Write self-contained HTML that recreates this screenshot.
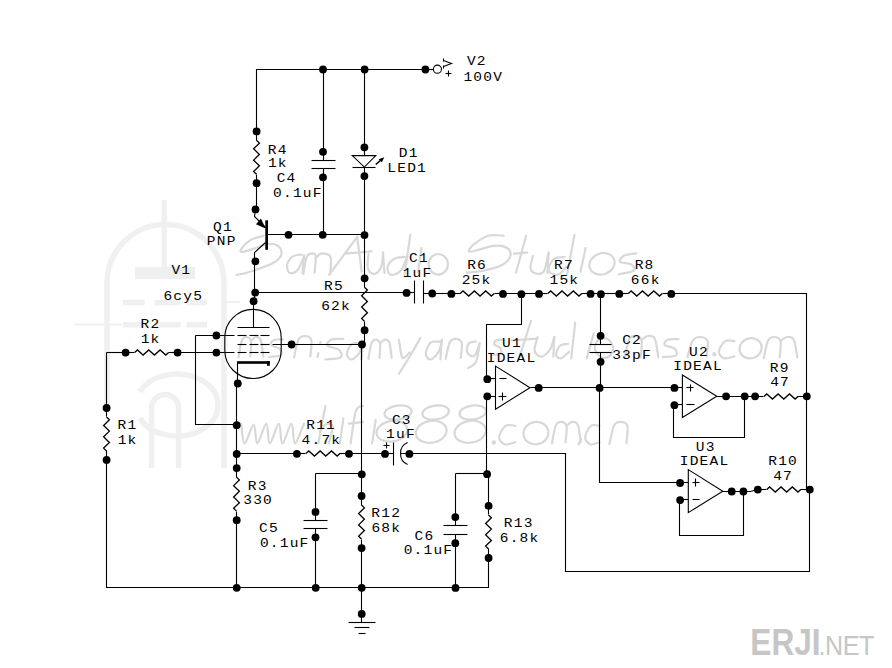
<!DOCTYPE html>
<html><head><meta charset="utf-8"><style>
html,body{margin:0;padding:0;background:#fff;width:892px;height:668px;overflow:hidden}
svg{display:block}
.s path,.s circle,.s rect{stroke:#000;stroke-width:1.1}
.s path{fill:none}
.s .f{fill:#000;stroke:none}
.s .z{stroke-width:1.3}
text{font-family:"Liberation Mono",monospace;font-size:13.2px;fill:#000;letter-spacing:1.1px}
</style></head><body>
<svg width="892" height="668" viewBox="0 0 892 668">
<rect width="892" height="668" fill="#fff"/>
<g fill="none" stroke="#f0f0f0" stroke-width="5.5">
<path d="M107 410 L107 283 A58.5 58.5 0 0 1 224 283 L224 468"/>
<path d="M164.3 200 L164.3 267"/>
<path d="M74 324.5 L122 324.5 M224 302 L240 302" stroke-width="2.2"/>
<path d="M123 302.6 L144.7 302.6 M154.3 302.6 L180.6 302.6 M186.6 302.6 L207 302.6"/>
<path d="M123 324.8 L144.7 324.8 M154.3 324.8 L180.6 324.8 M186.6 324.8 L207 324.8"/>
<path d="M139.8 391.9 A41 31 0 1 1 139.8 418.1"/>
<path d="M151.6 468 L151.6 408 A13.5 13.5 0 0 1 178.6 408 L178.6 468"/>
</g>
<rect x="135" y="267" width="60" height="12" fill="#efefef"/>
<g fill="none" stroke="#d8d8d8" stroke-width="2.2" stroke-linecap="round" stroke-linejoin="round"><path d="M263.6 235.7 C261.4 236.4 253.9 238.0 250.2 240.2 C246.5 242.4 242.5 247.1 241.2 249.1 C239.9 251.1 240.4 252.0 242.3 252.0 C244.2 252.0 248.3 250.4 252.4 249.1 C256.5 247.8 262.9 244.8 267.0 244.1 C271.1 243.4 274.7 243.8 277.1 245.2 C279.5 246.6 281.6 250.0 281.6 252.5 C281.6 255.0 280.1 258.0 277.1 260.4 C274.1 262.8 268.7 265.1 263.6 267.1 C258.6 269.2 251.3 271.4 246.8 272.7 C242.3 274.0 238.4 274.5 236.7 274.9"/>
<path d="M301.7 254.6 C300.2 254.9 295.2 254.7 292.8 256.4 C290.4 258.1 287.8 262.1 287.2 264.8 C286.6 267.5 287.7 271.8 289.4 272.7 C291.1 273.6 294.9 273.0 297.3 270.4 C299.7 267.8 302.9 259.2 304.0 257.0"/>
<path d="M304.0 255.0 C303.8 258.0 302.8 270.0 302.5 273.0"/>
<path d="M303.4 273.8 C303.9 271.0 305.3 260.4 306.7 257.0 C308.1 253.6 310.5 253.8 312.0 253.6 C313.5 253.4 315.3 252.8 315.7 256.0 C316.1 259.2 314.8 269.9 314.6 272.7"/>
<path d="M315.7 258.1 C316.6 257.4 318.8 254.1 321.0 253.6 C323.2 253.1 327.3 253.9 329.0 255.0 C330.7 256.1 330.8 256.9 331.0 260.0 C331.2 263.1 330.4 271.5 330.3 273.8"/>
<path d="M329.1 274.9 C333.8 268.5 352.5 243.2 357.2 236.8"/>
<path d="M357.2 236.8 C357.9 242.6 360.9 265.8 361.7 271.6"/>
<path d="M344.8 253.6 C349.3 253.2 367.2 251.8 371.7 251.4"/>
<path d="M368.4 254.0 C368.3 256.3 367.2 264.7 367.8 268.0 C368.4 271.3 370.3 272.9 372.0 273.6 C373.7 274.3 376.3 273.6 378.0 272.0 C379.7 270.4 381.2 267.2 382.0 264.0 C382.8 260.8 382.8 254.4 383.0 252.5"/>
<path d="M383.0 252.5 C383.2 255.9 384.2 269.6 384.5 273.0"/>
<path d="M404.7 256.9 C403.1 257.2 397.8 257.0 395.0 258.5 C392.2 260.0 388.6 263.4 387.7 266.0 C386.8 268.6 388.1 272.7 389.5 274.0 C390.9 275.3 393.9 274.9 396.0 274.0 C398.1 273.1 400.6 271.1 402.4 268.3 C404.2 265.5 406.1 258.9 406.9 257.0"/>
<path d="M410.3 234.6 C409.4 241.3 405.6 268.2 404.7 274.9"/>
<path d="M421.5 248.0 C420.9 251.9 418.7 267.7 418.1 271.6"/>
<ellipse cx="438.3" cy="264.3" rx="9.6" ry="10.3" transform="rotate(0 438.3 264.3)"/>
<path d="M503.7 235.7 C501.1 235.7 493.0 234.2 488.0 235.7 C483.0 237.2 476.7 242.1 473.5 244.7 C470.3 247.3 468.4 250.5 469.0 251.4 C469.6 252.3 472.7 251.2 476.8 250.3 C480.9 249.4 488.6 246.2 493.6 245.8 C498.7 245.4 504.3 246.3 507.1 248.0 C509.9 249.7 511.1 253.1 510.4 255.9 C509.6 258.7 506.9 262.4 502.6 264.8 C498.3 267.2 490.7 269.1 484.7 270.4 C478.7 271.7 469.7 272.3 466.7 272.7"/>
<path d="M526.1 235.7 C524.4 241.9 517.7 266.5 516.0 272.7"/>
<path d="M514.0 253.6 C516.2 253.4 525.1 252.7 527.3 252.5"/>
<path d="M532.9 255.9 C532.5 257.9 530.1 265.1 530.6 268.0 C531.1 270.9 533.8 273.0 536.0 273.5 C538.2 274.0 541.9 274.5 544.0 271.0 C546.1 267.5 547.8 255.6 548.6 252.5"/>
<path d="M548.6 252.5 C548.4 255.9 547.8 269.6 547.6 273.0"/>
<path d="M564.7 257.0 C563.0 257.3 557.0 256.7 554.3 258.7 C551.6 260.7 548.8 266.2 548.6 268.8 C548.4 271.4 551.1 273.5 553.0 274.3 C554.9 275.1 557.9 274.7 560.0 273.5 C562.1 272.3 564.9 268.0 565.9 266.9"/>
<path d="M574.5 234.8 C573.3 241.4 568.3 267.7 567.1 274.3"/>
<path d="M585.6 248.0 C584.8 252.0 581.4 267.8 580.5 271.8"/>
<ellipse cx="602" cy="263.8" rx="12.9" ry="10.5" transform="rotate(-20 602 263.8)"/>
<path d="M636.2 253.3 C634.1 253.7 626.5 254.4 623.8 255.8 C621.1 257.2 618.9 260.5 620.1 261.9 C621.3 263.3 628.9 262.9 631.2 264.4 C633.5 265.8 635.8 269.0 633.7 270.6 C631.7 272.2 621.4 273.7 618.9 274.3"/>
<path d="M238.6 357.5 C239.1 354.8 240.4 344.4 241.7 341.0 C242.9 337.6 244.4 337.0 246.0 337.0 C247.5 337.0 250.2 337.8 250.9 341.0 C251.6 344.2 250.4 353.9 250.3 356.5"/>
<path d="M250.9 341.0 C251.7 340.3 254.2 337.2 255.8 337.0 C257.5 336.8 259.5 336.8 260.7 340.0 C262.0 343.2 262.8 353.8 263.2 356.5"/>
<path d="M283.0 339.5 C281.5 339.6 276.2 339.1 274.2 340.0 C272.1 340.9 269.9 343.5 270.8 345.0 C271.7 346.4 277.9 347.0 279.6 348.7 C281.3 350.4 282.7 353.8 281.0 355.1 C279.3 356.5 271.3 356.7 269.4 357.0"/>
<path d="M294.0 357.5 C294.7 354.6 296.6 343.6 298.3 340.0 C300.1 336.4 302.2 336.0 304.4 336.0 C306.5 336.0 310.3 336.6 311.3 340.0 C312.3 343.4 310.5 353.8 310.3 356.5"/>
<path d="M320.5 342.0 C320.4 342.3 320.1 343.7 320.0 344.0"/>
<path d="M318.5 353.0 C318.3 353.7 317.7 356.3 317.5 357.0"/>
<path d="M343.3 338.9 C341.4 339.0 334.3 338.3 331.7 339.4 C329.0 340.5 326.0 343.7 327.2 345.5 C328.4 347.2 336.6 347.8 338.8 349.8 C341.1 351.8 342.9 355.7 340.6 357.3 C338.4 359.0 327.9 359.1 325.4 359.5"/>
<path d="M361.4 343.3 C359.8 343.4 354.1 342.4 351.7 344.2 C349.3 346.0 346.9 351.6 346.9 354.1 C346.9 356.7 349.6 359.8 351.7 359.5 C353.9 359.2 357.9 355.3 359.8 352.3 C361.7 349.3 362.5 343.3 363.0 341.5"/>
<path d="M363.0 341.5 C362.7 344.5 361.7 356.5 361.4 359.5"/>
<path d="M368.4 359.0 C368.9 356.4 370.1 346.9 371.3 343.7 C372.5 340.5 373.9 339.7 375.4 339.7 C376.8 339.7 379.4 340.6 380.0 343.7 C380.7 346.8 379.6 355.6 379.5 358.0"/>
<path d="M380.0 343.7 C380.8 343.0 383.2 339.9 384.7 339.7 C386.3 339.5 388.2 339.6 389.4 342.7 C390.5 345.8 391.3 355.4 391.7 358.0"/>
<path d="M398.9 339.7 C399.5 342.7 400.7 355.6 402.5 357.7 C404.3 359.8 408.5 353.2 409.7 352.3"/>
<path d="M420.4 337.9 C418.7 340.9 413.6 350.0 410.0 356.0 C406.4 362.0 400.8 370.8 398.9 373.8"/>
<path d="M440.4 341.7 C438.8 341.8 433.1 340.7 430.7 342.7 C428.2 344.7 425.8 350.8 425.8 353.6 C425.8 356.4 428.5 359.8 430.7 359.5 C432.8 359.2 436.9 354.9 438.8 351.6 C440.6 348.3 441.5 341.7 442.0 339.7"/>
<path d="M442.0 339.7 C441.7 343.0 440.6 356.2 440.4 359.5"/>
<path d="M445.6 359.0 C446.3 356.3 448.0 346.2 449.6 342.8 C451.2 339.4 453.2 338.8 455.3 338.8 C457.3 338.8 460.8 339.6 461.7 342.8 C462.6 346.0 460.9 355.5 460.7 358.0"/>
<path d="M476.0 341.5 C474.8 341.8 470.4 341.5 468.9 343.3 C467.4 345.1 466.2 350.2 467.1 352.3 C468.0 354.4 472.2 357.4 474.3 355.9 C476.4 354.4 478.7 345.4 479.6 343.3"/>
<path d="M479.6 343.3 C479.0 346.4 477.9 357.9 476.0 362.0 C474.1 366.1 469.3 367.0 468.0 368.0"/>
<path d="M502.3 339.7 C501.3 339.8 497.8 339.4 496.4 340.2 C495.1 341.0 493.6 343.2 494.2 344.4 C494.8 345.6 498.9 346.2 500.1 347.7 C501.2 349.2 502.1 352.1 500.9 353.4 C499.8 354.6 494.6 354.7 493.3 355.0"/>
<path d="M531.0 320.8 C529.2 326.5 522.0 349.1 520.2 354.8"/>
<path d="M511.3 340.5 C515.5 340.2 532.2 339.0 536.4 338.7"/>
<path d="M537.6 337.0 C537.1 339.3 533.9 347.5 534.6 350.7 C535.3 354.0 538.9 356.9 541.5 356.6 C544.1 356.3 548.2 352.0 550.4 348.8 C552.5 345.5 553.6 339.0 554.3 337.0"/>
<path d="M554.3 337.0 C554.1 340.3 553.5 353.3 553.3 356.6"/>
<path d="M568.2 343.9 C566.8 344.2 562.1 343.8 560.1 345.5 C558.1 347.3 556.0 352.2 556.1 354.4 C556.2 356.5 558.8 358.8 560.9 358.4 C563.1 358.0 567.6 353.0 569.0 352.0"/>
<path d="M575.2 322.6 C574.5 328.6 571.9 352.4 571.2 358.4"/>
<path d="M593.8 333.3 C592.6 337.5 587.8 354.2 586.6 358.4"/>
<ellipse cx="604" cy="348" rx="9" ry="10" transform="rotate(-15 604 348)"/>
<path d="M624.7 358.3 C625.4 355.2 627.2 343.6 628.9 339.9 C630.6 336.2 632.7 335.9 634.8 335.9 C636.9 335.9 640.5 336.3 641.5 339.9 C642.5 343.5 640.8 354.4 640.7 357.3"/>
<path d="M641.5 339.9 C642.6 339.2 646.0 336.1 648.2 335.9 C650.5 335.7 653.3 335.3 654.9 338.9 C656.6 342.5 657.7 354.2 658.3 357.3"/>
<path d="M678.5 339.1 C676.8 339.2 670.6 338.7 668.3 339.6 C665.9 340.5 663.3 343.3 664.4 344.8 C665.4 346.3 672.6 346.9 674.6 348.6 C676.5 350.4 678.1 353.9 676.1 355.3 C674.2 356.7 665.0 356.9 662.8 357.2"/>
<path d="M687.4 357.2 C688.2 354.5 690.4 344.4 692.5 341.0 C694.5 337.6 697.0 337.0 699.5 337.0 C702.0 337.0 706.4 337.8 707.6 341.0 C708.8 344.2 706.8 353.7 706.6 356.2"/>
<ellipse cx="714.3" cy="354.3" rx="1.1" ry="1.1" transform="rotate(0 714.3 354.3)"/>
<path d="M734.5 341.1 C732.9 341.1 727.7 339.4 725.1 341.1 C722.5 342.9 718.9 348.8 718.8 351.6 C718.7 354.5 721.7 357.5 724.3 358.3 C726.9 359.1 732.8 356.7 734.5 356.4"/>
<ellipse cx="750.6" cy="348.3" rx="11.2" ry="10" transform="rotate(-15 750.6 348.3)"/>
<path d="M763.7 358.3 C764.4 355.4 766.2 344.6 767.9 341.0 C769.6 337.4 771.7 337.0 773.8 337.0 C775.9 337.0 779.5 337.6 780.5 341.0 C781.5 344.4 779.8 354.6 779.7 357.3"/>
<path d="M780.5 341.0 C781.6 340.3 785.0 337.2 787.2 337.0 C789.5 336.8 792.3 336.6 793.9 340.0 C795.6 343.4 796.7 354.4 797.3 357.3"/>
<path d="M241.1 423.7 C241.7 427.0 242.6 443.2 244.7 443.4 C246.8 443.5 251.6 424.6 253.7 424.6 C255.8 424.6 255.2 443.5 257.3 443.4 C259.4 443.2 264.2 423.7 266.3 423.7 C268.4 423.7 267.7 443.4 269.8 443.4 C271.9 443.4 276.7 423.7 278.8 423.7 C280.9 423.7 280.3 443.4 282.4 443.4 C284.5 443.4 289.3 423.7 291.4 423.7 C293.5 423.7 292.9 443.4 295.0 443.4 C297.1 443.4 302.5 427.0 304.0 423.7"/>
<path d="M325.4 405.8 C324.2 412.1 319.5 437.1 318.3 443.4"/>
<path d="M320.1 430.9 C320.9 429.9 323.4 426.2 325.0 425.0 C326.6 423.8 328.2 423.3 329.5 423.7 C330.8 424.1 332.7 424.0 332.6 427.3 C332.5 430.6 329.6 440.7 329.0 443.4"/>
<path d="M343.4 418.3 C342.8 422.5 340.4 439.2 339.8 443.4"/>
<path d="M363.1 405.8 C361.9 406.7 358.0 404.8 355.9 411.1 C353.8 417.4 351.5 438.0 350.6 443.4"/>
<path d="M348.8 423.7 C351.2 423.4 360.7 422.2 363.1 421.9"/>
<path d="M375.7 420.1 C375.1 424.0 372.7 439.5 372.1 443.4"/>
<ellipse cx="398" cy="412.5" rx="13.6" ry="7.0" transform="rotate(-8 398 412.5)"/>
<ellipse cx="391.9" cy="431.2" rx="15.5" ry="10.3" transform="rotate(-10 391.9 431.2)"/>
<ellipse cx="435.6" cy="412.5" rx="13.4" ry="7.0" transform="rotate(-8 435.6 412.5)"/>
<ellipse cx="431.2" cy="431.8" rx="15.5" ry="10.9" transform="rotate(-10 431.2 431.8)"/>
<ellipse cx="472.8" cy="412.5" rx="13.4" ry="7.0" transform="rotate(-8 472.8 412.5)"/>
<ellipse cx="470.2" cy="431.8" rx="15.8" ry="10.9" transform="rotate(-10 470.2 431.8)"/>
<ellipse cx="493.8" cy="442.5" rx="1.2" ry="1.2" transform="rotate(0 493.8 442.5)"/>
<path d="M515.3 425.8 C513.7 425.8 508.3 423.9 505.6 425.8 C502.9 427.6 499.2 434.0 499.1 437.1 C499.0 440.2 502.1 443.4 504.8 444.3 C507.5 445.2 513.5 442.6 515.3 442.2"/>
<ellipse cx="535.9" cy="433.1" rx="12.5" ry="11.2" transform="rotate(-10 535.9 433.1)"/>
<path d="M552.0 443.4 C552.6 440.5 554.2 429.5 555.6 425.9 C557.0 422.3 558.8 421.9 560.6 421.9 C562.4 421.9 565.5 422.5 566.4 425.9 C567.2 429.3 565.8 439.6 565.6 442.4"/>
<path d="M566.4 425.9 C567.3 425.2 570.2 422.1 572.1 421.9 C574.0 421.7 576.4 421.5 577.8 424.9 C579.3 428.3 580.2 439.5 580.7 442.4"/>
<path d="M581.0 439.0 C580.6 439.9 578.9 443.6 578.5 444.5"/>
<path d="M599.6 425.8 C598.2 425.8 593.4 423.9 591.0 425.8 C588.6 427.6 585.3 434.0 585.2 437.1 C585.1 440.2 587.8 443.4 590.2 444.3 C592.6 445.2 598.0 442.6 599.6 442.2"/>
<path d="M609.4 444.3 C610.1 441.2 612.1 429.6 613.9 425.9 C615.7 422.2 617.9 421.9 620.2 421.9 C622.4 421.9 626.4 422.3 627.4 425.9 C628.4 429.5 626.6 440.4 626.4 443.3"/></g>
<g fill="#c8c8c8" font-family="Liberation Sans, sans-serif">
<text x="0" y="0" transform="translate(750.3 654.6) scale(0.855 1)" style="font-family:'Liberation Sans';font-weight:bold;font-size:37px;letter-spacing:0px;fill:#c6c6c6">ERJI</text>
<text x="0" y="0" transform="translate(818.5 654.5) scale(0.93 1)" style="font-family:'Liberation Sans';font-size:27px;letter-spacing:-0.5px;fill:#c6c6c6">.NET</text>
</g>

<g class="s">
<path d="M256.50 131.50 L256.50 69.50 L425.50 69.50"/>
<circle cx="323.00" cy="69.50" r="3.9" class="f"/>
<circle cx="364.60" cy="69.50" r="3.9" class="f"/>
<circle cx="425.40" cy="69.50" r="3.9" class="f"/>
<path d="M425.50 69.50 L433.50 69.50"/>
<circle cx="437.4" cy="69.2" r="4.05" fill="none"/>
<path d="M443.50 60.50 L451.50 63.50 L443.50 66.50"/>
<path d="M443.50 58.50 L443.50 61.50"/>
<path d="M443.50 65.50 L443.50 68.50"/>
<path d="M445.50 73.50 L451.50 73.50"/>
<path d="M448.50 70.50 L448.50 76.50"/>
<circle cx="256.60" cy="131.40" r="3.9" class="f"/>
<circle cx="256.60" cy="183.20" r="3.9" class="f"/>
<path d="M256.50 131.50 L256.50 140.50"/>
<path d="M256.50 174.50 L256.50 183.50"/>
<path d="M256.50 140.30 L259.40 143.13 L253.60 148.80 L259.40 154.47 L253.60 160.13 L259.40 165.80 L253.60 171.47 L256.50 174.30" class="z"/>
<path d="M323.50 69.50 L323.50 151.50"/>
<circle cx="323.00" cy="151.80" r="3.9" class="f"/>
<circle cx="323.00" cy="177.30" r="3.9" class="f"/>
<path d="M323.50 151.50 L323.50 160.50"/>
<path d="M323.50 168.50 L323.50 177.50"/>
<path d="M311.50 160.50 L335.50 160.50"/>
<path d="M311.50 168.50 L335.50 168.50"/>
<path d="M323.50 177.50 L323.50 235.50"/>
<path d="M364.50 69.50 L364.50 147.50"/>
<circle cx="364.40" cy="147.30" r="3.9" class="f"/>
<path d="M364.50 147.50 L364.50 155.50"/>
<path d="M352.3 155.6 L375.8 155.6 L364.3 167.1 Z" fill="none"/>
<path d="M352.50 167.50 L375.50 167.50"/>
<circle cx="364.40" cy="176.10" r="3.9" class="f"/>
<path d="M364.50 167.50 L364.50 278.50"/>
<path d="M375.8 164.5 L381.5 159.5" style="stroke-width:1.6"/>
<path d="M384.3 157.2 L378.6 159.2 L381.9 162.3 Z" class="f"/>
<circle cx="255.50" cy="209.40" r="3.9" class="f"/>
<path d="M256.50 183.50 L256.50 209.50"/>
<path d="M255.50 209.50 L254.50 216.50 L265.50 227.50"/>
<path d="M265.6 228.4 L256.0 224.2 L260.9 218.4 Z" class="f"/>
<rect x="265.3" y="220.3" width="2.7" height="29.5" class="f" stroke="none"/>
<path d="M266.50 234.50 L364.50 234.50"/>
<circle cx="288.50" cy="234.80" r="3.9" class="f"/>
<circle cx="322.70" cy="234.80" r="3.9" class="f"/>
<circle cx="364.50" cy="235.10" r="3.9" class="f"/>
<path d="M265.50 242.50 L254.50 252.50 L254.50 261.50"/>
<circle cx="255.40" cy="261.30" r="3.9" class="f"/>
<path d="M254.50 261.50 L254.50 301.50"/>
<circle cx="255.20" cy="292.60" r="3.9" class="f"/>
<circle cx="253.60" cy="301.20" r="3.9" class="f"/>
<path d="M255.50 292.50 L406.50 292.50"/>
<circle cx="364.60" cy="278.30" r="3.9" class="f"/>
<circle cx="364.60" cy="330.20" r="3.9" class="f"/>
<path d="M364.50 278.50 L364.50 287.50"/>
<path d="M364.50 321.50 L364.50 330.50"/>
<path d="M364.50 287.25 L367.40 290.08 L361.60 295.75 L367.40 301.42 L361.60 307.08 L367.40 312.75 L361.60 318.42 L364.50 321.25" class="z"/>
<path d="M364.50 330.50 L364.50 341.50 L362.50 344.50"/>
<circle cx="362.00" cy="344.50" r="3.9" class="f"/>
<path d="M361.50 344.50 L361.50 496.50"/>
<path d="M361.50 548.50 L361.50 587.50"/>
<circle cx="406.60" cy="292.90" r="3.9" class="f"/>
<circle cx="432.20" cy="293.50" r="3.9" class="f"/>
<path d="M406.50 292.50 L414.50 292.50"/>
<path d="M423.50 293.50 L451.50 293.50"/>
<path d="M414.50 280.50 L414.50 303.50"/>
<path d="M423.50 280.50 L423.50 303.50"/>
<circle cx="451.40" cy="293.90" r="3.9" class="f"/>
<circle cx="503.00" cy="293.90" r="3.9" class="f"/>
<path d="M451.50 293.50 L460.50 293.50"/>
<path d="M494.50 293.50 L503.50 293.50"/>
<path d="M460.20 293.50 L463.03 290.90 L468.70 296.10 L474.37 290.90 L480.03 296.10 L485.70 290.90 L491.37 296.10 L494.20 293.50" class="z"/>
<path d="M503.50 293.50 L539.50 293.50"/>
<circle cx="521.40" cy="294.20" r="3.9" class="f"/>
<circle cx="539.00" cy="293.90" r="3.9" class="f"/>
<circle cx="590.60" cy="293.90" r="3.9" class="f"/>
<path d="M539.50 293.50 L547.50 293.50"/>
<path d="M581.50 293.50 L590.50 293.50"/>
<path d="M547.80 293.50 L550.63 290.90 L556.30 296.10 L561.97 290.90 L567.63 296.10 L573.30 290.90 L578.97 296.10 L581.80 293.50" class="z"/>
<path d="M590.50 293.50 L619.50 293.50"/>
<circle cx="600.90" cy="294.20" r="3.9" class="f"/>
<circle cx="619.30" cy="293.90" r="3.9" class="f"/>
<circle cx="671.30" cy="293.90" r="3.9" class="f"/>
<path d="M619.50 293.50 L628.50 293.50"/>
<path d="M662.50 293.50 L671.50 293.50"/>
<path d="M628.30 293.50 L631.13 290.90 L636.80 296.10 L642.47 290.90 L648.13 296.10 L653.80 290.90 L659.47 296.10 L662.30 293.50" class="z"/>
<path d="M671.50 293.50 L806.50 293.50 L806.50 396.50"/>
<rect x="224.8" y="309.4" width="56.4" height="69.1" rx="28.2" ry="28.2" fill="none"/>
<path d="M253.50 301.50 L253.50 327.50"/>
<path d="M237.50 327.50 L269.50 327.50"/>
<path d="M237.50 335.50 L246.50 335.50"/>
<path d="M249.50 335.50 L258.50 335.50"/>
<path d="M260.50 335.50 L269.50 335.50"/>
<path d="M237.50 344.50 L246.50 344.50"/>
<path d="M249.50 344.50 L258.50 344.50"/>
<path d="M260.50 344.50 L269.50 344.50"/>
<path d="M237.50 352.50 L246.50 352.50"/>
<path d="M249.50 352.50 L258.50 352.50"/>
<path d="M260.50 352.50 L269.50 352.50"/>
<path d="M195.50 335.50 L234.50 335.50"/>
<circle cx="216.40" cy="335.50" r="3.9" class="f"/>
<path d="M106.50 352.50 L125.50 352.50"/>
<path d="M177.50 352.50 L234.50 352.50"/>
<circle cx="216.40" cy="352.60" r="3.9" class="f"/>
<path d="M272.50 344.50 L362.50 344.50"/>
<circle cx="291.60" cy="344.50" r="3.9" class="f"/>
<rect x="237.1" y="361.2" width="32.7" height="2.6" class="f" stroke="none"/>
<rect x="267.0" y="361.2" width="2.8" height="4.6" class="f" stroke="none"/>
<path d="M237.50 362.50 L237.50 383.50"/>
<path d="M236.50 383.50 L236.50 468.50"/>
<path d="M236.50 520.50 L236.50 587.50"/>
<circle cx="237.80" cy="383.50" r="3.9" class="f"/>
<path d="M195.50 335.50 L195.50 424.50 L236.50 424.50"/>
<circle cx="236.70" cy="425.20" r="3.9" class="f"/>
<circle cx="236.70" cy="454.00" r="3.9" class="f"/>
<circle cx="125.60" cy="352.60" r="3.9" class="f"/>
<circle cx="177.60" cy="352.60" r="3.9" class="f"/>
<path d="M125.50 352.50 L134.50 352.50"/>
<path d="M168.50 352.50 L177.50 352.50"/>
<path d="M134.60 352.50 L137.43 349.90 L143.10 355.10 L148.77 349.90 L154.43 355.10 L160.10 349.90 L165.77 355.10 L168.60 352.50" class="z"/>
<path d="M106.50 352.50 L106.50 408.50"/>
<circle cx="106.60" cy="408.00" r="3.9" class="f"/>
<circle cx="106.60" cy="459.90" r="3.9" class="f"/>
<path d="M106.50 408.50 L106.50 416.50"/>
<path d="M106.50 450.50 L106.50 459.50"/>
<path d="M106.50 416.95 L109.40 419.78 L103.60 425.45 L109.40 431.12 L103.60 436.78 L109.40 442.45 L103.60 448.12 L106.50 450.95" class="z"/>
<path d="M106.50 459.50 L106.50 587.50 L488.50 587.50 L488.50 558.50"/>
<circle cx="236.70" cy="468.10" r="3.9" class="f"/>
<circle cx="236.70" cy="520.20" r="3.9" class="f"/>
<path d="M236.50 468.50 L236.50 477.50"/>
<path d="M236.50 511.50 L236.50 520.50"/>
<path d="M236.50 477.15 L239.40 479.98 L233.60 485.65 L239.40 491.32 L233.60 496.98 L239.40 502.65 L233.60 508.32 L236.50 511.15" class="z"/>
<circle cx="236.70" cy="587.80" r="3.9" class="f"/>
<path d="M236.50 453.50 L296.50 453.50"/>
<circle cx="296.90" cy="453.80" r="3.9" class="f"/>
<circle cx="349.00" cy="453.80" r="3.9" class="f"/>
<path d="M296.50 453.50 L305.50 453.50"/>
<path d="M339.50 453.50 L349.50 453.50"/>
<path d="M305.95 453.50 L308.78 450.90 L314.45 456.10 L320.12 450.90 L325.78 456.10 L331.45 450.90 L337.12 456.10 L339.95 453.50" class="z"/>
<path d="M349.50 453.50 L384.50 453.50"/>
<circle cx="385.00" cy="453.90" r="3.9" class="f"/>
<circle cx="409.40" cy="453.90" r="3.9" class="f"/>
<path d="M385.50 453.50 L393.50 453.50"/>
<path d="M393.50 442.50 L393.50 465.50"/>
<path d="M407.6 442.5 Q400.2 445.5 400.6 453.5 Q400.2 461.5 407.6 464.4" fill="none"/>
<path d="M400.50 453.50 L565.50 453.50 L565.50 571.50 L809.50 571.50 L809.50 489.50"/>
<path d="M383.50 445.50 L389.50 445.50"/>
<path d="M386.50 442.50 L386.50 448.50"/>
<path d="M315.50 473.50 L361.50 473.50"/>
<circle cx="361.80" cy="474.30" r="3.9" class="f"/>
<path d="M315.50 473.50 L315.50 511.50"/>
<circle cx="315.50" cy="511.90" r="3.9" class="f"/>
<circle cx="315.50" cy="537.30" r="3.9" class="f"/>
<path d="M315.50 511.50 L315.50 520.50"/>
<path d="M315.50 528.50 L315.50 537.50"/>
<path d="M303.50 520.50 L327.50 520.50"/>
<path d="M303.50 528.50 L327.50 528.50"/>
<path d="M315.50 537.50 L315.50 587.50"/>
<circle cx="315.70" cy="587.80" r="3.9" class="f"/>
<circle cx="361.60" cy="496.00" r="3.9" class="f"/>
<circle cx="361.60" cy="548.10" r="3.9" class="f"/>
<path d="M361.50 496.50 L361.50 505.50"/>
<path d="M361.50 539.50 L361.50 548.50"/>
<path d="M361.50 505.05 L364.40 507.88 L358.60 513.55 L364.40 519.22 L358.60 524.88 L364.40 530.55 L358.60 536.22 L361.50 539.05" class="z"/>
<circle cx="361.70" cy="587.80" r="3.9" class="f"/>
<path d="M361.50 587.50 L361.50 613.50"/>
<circle cx="361.70" cy="613.90" r="3.9" class="f"/>
<path d="M361.50 613.50 L361.50 622.50"/>
<path d="M348.50 622.50 L375.50 622.50"/>
<path d="M354.50 627.50 L369.50 627.50"/>
<path d="M358.50 633.50 L365.50 633.50"/>
<path d="M455.50 473.50 L486.50 473.50"/>
<circle cx="487.10" cy="474.20" r="3.9" class="f"/>
<path d="M455.50 473.50 L455.50 517.50"/>
<circle cx="455.30" cy="517.10" r="3.9" class="f"/>
<circle cx="455.30" cy="543.20" r="3.9" class="f"/>
<path d="M455.50 517.50 L455.50 525.50"/>
<path d="M455.50 534.50 L455.50 543.50"/>
<path d="M443.50 525.50 L467.50 525.50"/>
<path d="M443.50 534.50 L467.50 534.50"/>
<path d="M455.50 543.50 L455.50 587.50"/>
<circle cx="455.50" cy="587.90" r="3.9" class="f"/>
<path d="M486.50 396.50 L486.50 474.50 L488.50 476.50 L488.50 505.50"/>
<circle cx="488.60" cy="505.90" r="3.9" class="f"/>
<circle cx="488.60" cy="558.00" r="3.9" class="f"/>
<path d="M488.50 505.50 L488.50 514.50"/>
<path d="M488.50 548.50 L488.50 558.50"/>
<path d="M488.50 514.95 L491.40 517.78 L485.60 523.45 L491.40 529.12 L485.60 534.78 L491.40 540.45 L485.60 546.12 L488.50 548.95" class="z"/>
<path d="M521.50 294.50 L521.50 324.50 L486.50 324.50 L486.50 379.50"/>
<circle cx="487.30" cy="379.20" r="3.9" class="f"/>
<circle cx="487.30" cy="396.30" r="3.9" class="f"/>
<path d="M487.50 378.50 L495.50 378.50"/>
<path d="M487.50 396.50 L495.50 396.50"/>
<path d="M495.5 366.1 L530 387.7 L495.5 409.2 Z" fill="none"/>
<path d="M499.50 378.50 L506.50 378.50"/>
<path d="M498.50 396.50 L506.50 396.50"/>
<path d="M502.50 392.50 L502.50 400.50"/>
<circle cx="538.70" cy="387.90" r="3.9" class="f"/>
<path d="M530.50 387.50 L674.50 387.50"/>
<path d="M600.50 294.50 L600.50 335.50"/>
<circle cx="600.60" cy="335.80" r="3.9" class="f"/>
<circle cx="600.60" cy="361.80" r="3.9" class="f"/>
<path d="M600.50 335.50 L600.50 344.50"/>
<path d="M600.50 352.50 L600.50 361.50"/>
<path d="M589.50 344.50 L611.50 344.50"/>
<path d="M589.50 352.50 L611.50 352.50"/>
<path d="M600.50 361.50 L600.50 386.50 L599.50 388.50 L599.50 482.50 L680.50 482.50"/>
<circle cx="599.60" cy="387.90" r="3.9" class="f"/>
<circle cx="674.40" cy="387.90" r="3.9" class="f"/>
<circle cx="674.40" cy="405.20" r="3.9" class="f"/>
<path d="M674.50 387.50 L682.50 387.50"/>
<path d="M674.50 404.50 L682.50 404.50"/>
<path d="M682.4 375 L716.8 396.3 L682.4 417.4 Z" fill="none"/>
<path d="M686.50 387.50 L693.50 387.50"/>
<path d="M690.50 384.50 L690.50 391.50"/>
<path d="M686.50 404.50 L694.50 404.50"/>
<circle cx="726.10" cy="396.30" r="3.9" class="f"/>
<circle cx="744.70" cy="396.30" r="3.9" class="f"/>
<path d="M716.50 396.50 L755.50 396.50"/>
<path d="M673.50 405.50 L673.50 437.50 L744.50 437.50 L744.50 396.50"/>
<circle cx="755.10" cy="396.30" r="3.9" class="f"/>
<circle cx="806.80" cy="396.30" r="3.9" class="f"/>
<path d="M755.50 396.50 L763.50 396.50"/>
<path d="M797.50 396.50 L806.50 396.50"/>
<path d="M763.95 396.50 L766.78 393.90 L772.45 399.10 L778.12 393.90 L783.78 399.10 L789.45 393.90 L795.12 399.10 L797.95 396.50" class="z"/>
<path d="M806.50 396.50 L806.50 489.50 L809.50 489.50"/>
<circle cx="680.10" cy="483.00" r="3.9" class="f"/>
<circle cx="680.10" cy="500.10" r="3.9" class="f"/>
<path d="M680.50 482.50 L688.50 482.50"/>
<path d="M680.50 499.50 L688.50 499.50"/>
<path d="M688.3 469.6 L722.8 491.3 L688.3 512.6 Z" fill="none"/>
<path d="M692.50 482.50 L699.50 482.50"/>
<path d="M695.50 478.50 L695.50 486.50"/>
<path d="M692.50 499.50 L699.50 499.50"/>
<circle cx="731.70" cy="491.50" r="3.9" class="f"/>
<circle cx="743.40" cy="491.50" r="3.9" class="f"/>
<path d="M722.50 491.50 L750.50 491.50 L757.50 489.50"/>
<path d="M679.50 500.50 L679.50 535.50 L743.50 535.50 L743.50 491.50"/>
<circle cx="757.80" cy="489.60" r="3.9" class="f"/>
<circle cx="809.80" cy="489.60" r="3.9" class="f"/>
<path d="M757.50 489.50 L766.50 489.50"/>
<path d="M800.50 489.50 L809.50 489.50"/>
<path d="M766.80 489.50 L769.63 486.90 L775.30 492.10 L780.97 486.90 L786.63 492.10 L792.30 486.90 L797.97 492.10 L800.80 489.50" class="z"/>
</g>
<g transform="scale(1.1,1)">
<text x="424.48" y="65.00">V2</text>
<text x="421.32" y="80.75">100V</text>
<text x="243.50" y="154.00">R4</text>
<text x="243.59" y="167.25">1k</text>
<text x="251.54" y="182.25">C4</text>
<text x="248.29" y="197.00">0.1uF</text>
<text x="362.59" y="157.50">D1</text>
<text x="352.11" y="171.75">LED1</text>
<text x="193.66" y="231.00">Q1</text>
<text x="188.05" y="245.50">PNP</text>
<text x="155.84" y="274.50">V1</text>
<text x="148.57" y="300.50">6cy5</text>
<text x="294.64" y="290.00">R5</text>
<text x="291.98" y="310.00">62k</text>
<text x="371.82" y="261.70">C1</text>
<text x="366.05" y="277.50">1uF</text>
<text x="424.68" y="269.50">R6</text>
<text x="419.71" y="283.70">25k</text>
<text x="503.68" y="268.80">R7</text>
<text x="499.59" y="284.50">15k</text>
<text x="576.96" y="268.80">R8</text>
<text x="573.48" y="284.50">66k</text>
<text x="127.82" y="328.00">R2</text>
<text x="127.91" y="343.00">1k</text>
<text x="106.86" y="428.80">R1</text>
<text x="106.96" y="444.00">1k</text>
<text x="225.32" y="489.80">R3</text>
<text x="221.17" y="504.30">330</text>
<text x="278.41" y="428.70">R11</text>
<text x="274.15" y="444.10">4.7k</text>
<text x="356.27" y="423.60">C3</text>
<text x="350.96" y="438.20">1uF</text>
<text x="235.54" y="532.30">C5</text>
<text x="236.29" y="546.90">0.1uF</text>
<text x="337.59" y="516.90">R12</text>
<text x="337.66" y="532.50">68k</text>
<text x="376.82" y="539.70">C6</text>
<text x="367.02" y="554.50">0.1uF</text>
<text x="458.05" y="526.70">R13</text>
<text x="454.30" y="541.70">6.8k</text>
<text x="456.36" y="346.80">U1</text>
<text x="442.52" y="362.00">IDEAL</text>
<text x="565.64" y="343.60">C2</text>
<text x="556.54" y="359.00">33pF</text>
<text x="626.45" y="356.10">U2</text>
<text x="612.06" y="369.60">IDEAL</text>
<text x="699.77" y="371.90">R9</text>
<text x="700.15" y="385.70">47</text>
<text x="632.54" y="450.80">U3</text>
<text x="617.97" y="464.60">IDEAL</text>
<text x="698.41" y="464.60">R10</text>
<text x="702.88" y="480.50">47</text>
</g>
</svg>
</body></html>
